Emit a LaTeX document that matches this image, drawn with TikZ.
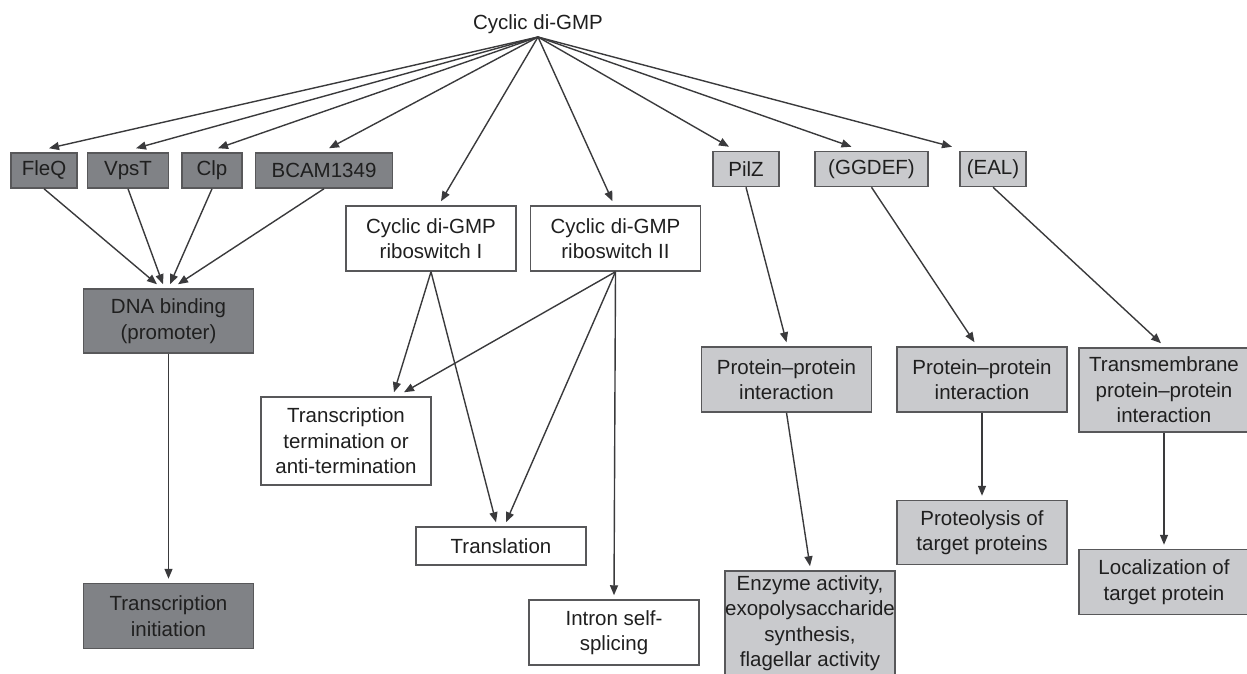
\documentclass[tikz,border=0pt]{standalone}
\usepackage{fontspec}
\setmainfont{Liberation Sans}
\usetikzlibrary{positioning}
\usetikzlibrary{arrows.meta}
\definecolor{darkfill}{RGB}{128,130,134}
\definecolor{lightfill}{RGB}{201,202,205}
\definecolor{edgegray}{RGB}{88,88,90}
\definecolor{inkgray}{RGB}{58,58,60}
\tikzstyle{darkbox} = [rectangle, draw=edgegray, fill=darkfill, line width=1.5pt,
inner sep=0pt, align=center, text=black!88, font=\fontsize{20.5}{25.5}\selectfont]
\tikzstyle{lightbox} = [darkbox, fill=lightfill]
\tikzstyle{plainbox} = [darkbox, fill=white]
\tikzstyle{rowbox} = [minimum height=35pt]
\tikzstyle{widebox} = [minimum width=170pt]
\tikzstyle{wire} = [->, draw=inkgray, line width=1.4pt]
\tikzset{>={Triangle[length=10pt,width=8pt]}}
\newcommand{\feed}[3][0]{ %
  % arrow from point #2 to the top of node #3, moved sideways by #1
  \draw[wire] (#2) -- ([xshift=#1pt,yshift=4pt]#3.north) ;%
}
\begin{document}
\begin{tikzpicture}[x=1pt, y=-1pt, node distance=12pt]
  \path[use as bounding box] (0,0) rectangle (1247,673);
  \clip (0,0) rectangle (1247,673);

  \node[anchor=south, inner sep=3pt, text=black!88,
    font=\fontsize{20.5}{25.5}\selectfont] (cdg) at (538,37) {Cyclic di-GMP};

        \node[darkbox, rowbox, minimum width=66pt] (fleq) at (44,170.5) {FleQ}; %
        \node[darkbox, rowbox, minimum width=81pt, right=9pt of fleq] (vpst) {VpsT}; %
        \node[darkbox, rowbox, minimum width=60pt, right=of vpst] (clp) {Clp}; %
        \node[darkbox, rowbox, minimum width=137pt, right=of clp] (bcam) {BCAM1349}; %

        \node[plainbox, widebox, minimum height=65pt] (riboa) at (431,238.5) {Cyclic di-GMP\\riboswitch I}; %
        \node[plainbox, widebox, minimum height=65pt, right=13pt of riboa] (ribob) {Cyclic di-GMP\\riboswitch II}; %

        \node[lightbox, rowbox, minimum width=66pt] (pilz) at (746,169) {PilZ}; %
        \node[lightbox, rowbox, minimum width=113pt] (ggdef) at (871.5,169) {(GGDEF)}; %
        \node[lightbox, rowbox, minimum width=66pt] (eal) at (993,169) {(EAL)}; %

        \node[darkbox, widebox, minimum height=64pt] (dna) at (168.5,321) {DNA binding\\(promoter)}; %
        \node[darkbox, widebox, minimum height=65pt, below=229pt of dna] (init) {Transcription\\initiation}; %

        \node[plainbox, widebox, minimum height=88pt] (term) at (346,441) {Transcription\\termination or\\anti-termination}; %
        \node[plainbox, widebox, minimum height=38pt] (transl) at (501,546) {Translation}; %
        \node[plainbox, widebox, minimum height=65pt] (intron) at (614,632.5) {Intron self-\\splicing}; %

        \node[lightbox, widebox, minimum height=65pt] (ppa) at (786.5,379.5) {Protein--protein\\interaction}; %
        \node[lightbox, widebox, minimum height=65pt, right=24pt of ppa] (ppb) {Protein--protein\\interaction}; %
        \node[lightbox, widebox, minimum height=84pt] (tm) at (1164,390) {Transmembrane\\protein--protein\\interaction}; %

        \node[lightbox, widebox, minimum height=104pt] (enz) at (810,623) {Enzyme activity,\\exopolysaccharide\\synthesis,\\flagellar activity}; %
        \node[lightbox, widebox, minimum height=64pt, below=87pt of ppb] (prot) {Proteolysis of\\target proteins}; %
        \node[lightbox, widebox, minimum height=65pt, below=116pt of tm] (loc) {Localization of\\target protein}; %

        \foreach \t/\dx in {fleq/5, vpst/8, clp/6, bcam/5, riboa/10, ribob/-3, pilz/-17, ggdef/-20, eal/-41}
          {\feed[\dx]{cdg.south}{\t}}
        \foreach \s/\dx in {fleq/-11.5, vpst/-5.5, clp/1.5, bcam/9.5}
          {\feed[\dx]{\s.south}{dna}}
        \feed{dna.south}{init}

        \feed[48]{riboa.south}{term}
        \feed[-5]{riboa.south}{transl}
        \feed[58]{ribob.south}{term}
        \feed[5]{ribob.south}{transl}
        \feed{ribob.south}{intron}

        \feed{pilz.south}{ppa}
        \feed{ppa.south}{enz}
        \feed[-7.5]{ggdef.south}{ppb}
        \feed{ppb.south}{prot}
        \feed[-3]{eal.south}{tm}
        \feed{tm.south}{loc}
\end{tikzpicture}
\end{document}
